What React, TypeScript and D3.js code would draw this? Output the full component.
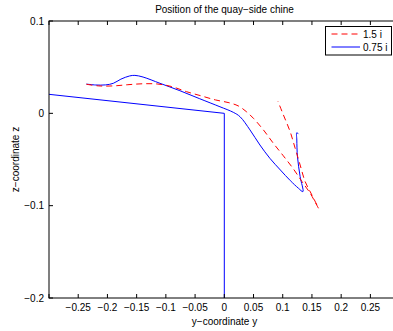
import React from "react";
import * as d3 from "d3";

const title = "Position of the quay\u2212side chine";
const xLabel = "y\u2212coordinate y";
const yLabel = "z\u2212coordinate z";
const xTicks = [-0.3, -0.25, -0.2, -0.15, -0.1, -0.05, 0, 0.05, 0.1, 0.15, 0.2, 0.25, 0.3];
const yTicks = [0.1, 0, -0.1, -0.2];
const legendLabels = ["1.5 i", "0.75 i"];

// series "1.5 i" (red dashed)
const redY = [-0.236, -0.215, -0.19, -0.165, -0.14, -0.115, -0.09, -0.065, -0.04, -0.015, 0.008, 0.024, 0.038, 0.05, 0.067, 0.084, 0.101, 0.118, 0.133, 0.147, 0.1612, 0.1499, 0.1384, 0.1298, 0.1213, 0.1127, 0.1012, 0.0916];
const redZ = [0.0315, 0.0297, 0.0297, 0.031, 0.032, 0.0318, 0.029, 0.0235, 0.019, 0.0145, 0.0115, 0.008, 0.0017, -0.0055, -0.018, -0.0325, -0.046, -0.06, -0.074, -0.0866, -0.1028, -0.0884, -0.074, -0.056, -0.0379, -0.0199, -0.0018, 0.0133];

// series "0.75 i" (blue solid)
const blueY = [-0.236, -0.22, -0.203, -0.19, -0.177, -0.162, -0.153, -0.139, -0.11, -0.076, -0.042, -0.0074, 0.0154, 0.027, 0.044, 0.061, 0.078, 0.096, 0.113, 0.127, 0.1345, 0.1298, 0.1252, 0.1241, 0.124, 0.127];
const blueZ = [0.0317, 0.0307, 0.0308, 0.0325, 0.037, 0.0405, 0.0411, 0.0393, 0.0325, 0.0245, 0.0158, 0.0071, 0.0011, -0.0037, -0.018, -0.0343, -0.0487, -0.0614, -0.0729, -0.0812, -0.0848, -0.0686, -0.047, -0.0289, -0.021, -0.0225];

// reference path (blue)
const refY = [-0.3, 0, 0];
const refZ = [0.0206, 0, -0.2];

const W = 393;
const H = 331;
const left = 49;
const top = 21;
const bottom = 298;
const plotW = 350.6;

export default function App() {
  const x = d3.scaleLinear().domain([-0.3, 0.3]).range([left, left + plotW]);
  const y = d3.scaleLinear().domain([-0.2, 0.1]).range([bottom, top]);
  const line = d3
    .line<[number, number]>()
    .x((d) => x(d[0]))
    .y((d) => y(d[1]));
  const smooth = d3
    .line<[number, number]>()
    .x((d) => x(d[0]))
    .y((d) => y(d[1]))
    .curve(d3.curveCatmullRom.alpha(0.5));
  const red: [number, number][] = redY.map((v, i) => [v, redZ[i]]);
  const blue: [number, number][] = blueY.map((v, i) => [v, blueZ[i]]);
  const ref: [number, number][] = refY.map((v, i) => [v, refZ[i]]);
  const font = "'Liberation Sans', Arial, Helvetica, sans-serif";
  const x0 = x(-0.3);
  const x1 = x(0.3);
  const tl = 4;
  const legX = 325.5;
  const legY = 26.5;
  const fmt = (t: number) => (Math.abs(t) < 1e-9 ? "0" : d3.format("")(t)).replace("-", "\u2212");
  return (
    <svg
      width={W}
      height={H}
      style={{ position: "absolute", left: 0, top: 0, background: "#fff" }}
      fontFamily={font}
    >
      <rect x={0} y={0} width={W} height={H} fill="#fff" />
      <defs>
        <clipPath id="plotclip">
          <rect x={x0} y={top} width={x1 - x0} height={bottom - top} />
        </clipPath>
      </defs>
      <g clipPath="url(#plotclip)" fill="none">
        <path d={line(ref) || ""} stroke="#0000ff" strokeWidth={1} />
        <path d={smooth(blue) || ""} stroke="#0000ff" strokeWidth={1} strokeLinejoin="round" />
        <path d={smooth(red) || ""} stroke="#ff0000" strokeWidth={1} strokeDasharray="6,4" />
      </g>
      <rect x={x0} y={top} width={x1 - x0} height={bottom - top} fill="none" stroke="#000" strokeWidth={1} />
      {xTicks.map((t) => (
        <g key={"xt" + t}>
          <line x1={x(t)} x2={x(t)} y1={bottom} y2={bottom - tl} stroke="#000" />
          <line x1={x(t)} x2={x(t)} y1={top} y2={top + tl} stroke="#000" />
          {Math.abs(t) < 0.29 && (
            <text x={x(t)} y={311} fontSize={10} textAnchor="middle" fill="#000">
              {fmt(t)}
            </text>
          )}
        </g>
      ))}
      {yTicks.map((t) => (
        <g key={"yt" + t}>
          <line x1={x0} x2={x0 + tl} y1={y(t)} y2={y(t)} stroke="#000" />
          <line x1={x1} x2={x1 - tl} y1={y(t)} y2={y(t)} stroke="#000" />
          <text x={44} y={y(t) + 3.5} fontSize={10} textAnchor="end" fill="#000">
            {fmt(t)}
          </text>
        </g>
      ))}
      <text x={224.5} y={13} fontSize={10} textAnchor="middle" fill="#000">
        {title}
      </text>
      <text x={224.5} y={325} fontSize={10} textAnchor="middle" fill="#000">
        {xLabel}
      </text>
      <text
        transform={`translate(19, ${(top + bottom) / 2}) rotate(-90)`}
        fontSize={10}
        textAnchor="middle"
        fill="#000"
      >
        {yLabel}
      </text>
      <rect x={legX} y={legY} width={66} height={28.5} fill="#fff" stroke="#000" strokeWidth={1} />
      <line x1={331.5} x2={360} y1={34} y2={34} stroke="#ff0000" strokeDasharray="6,4" />
      <line x1={331.5} x2={360} y1={47} y2={47} stroke="#0000ff" />
      <text x={363} y={37.5} fontSize={10} fill="#000">
        {legendLabels[0]}
      </text>
      <text x={363} y={50.5} fontSize={10} fill="#000">
        {legendLabels[1]}
      </text>
    </svg>
  );
}
